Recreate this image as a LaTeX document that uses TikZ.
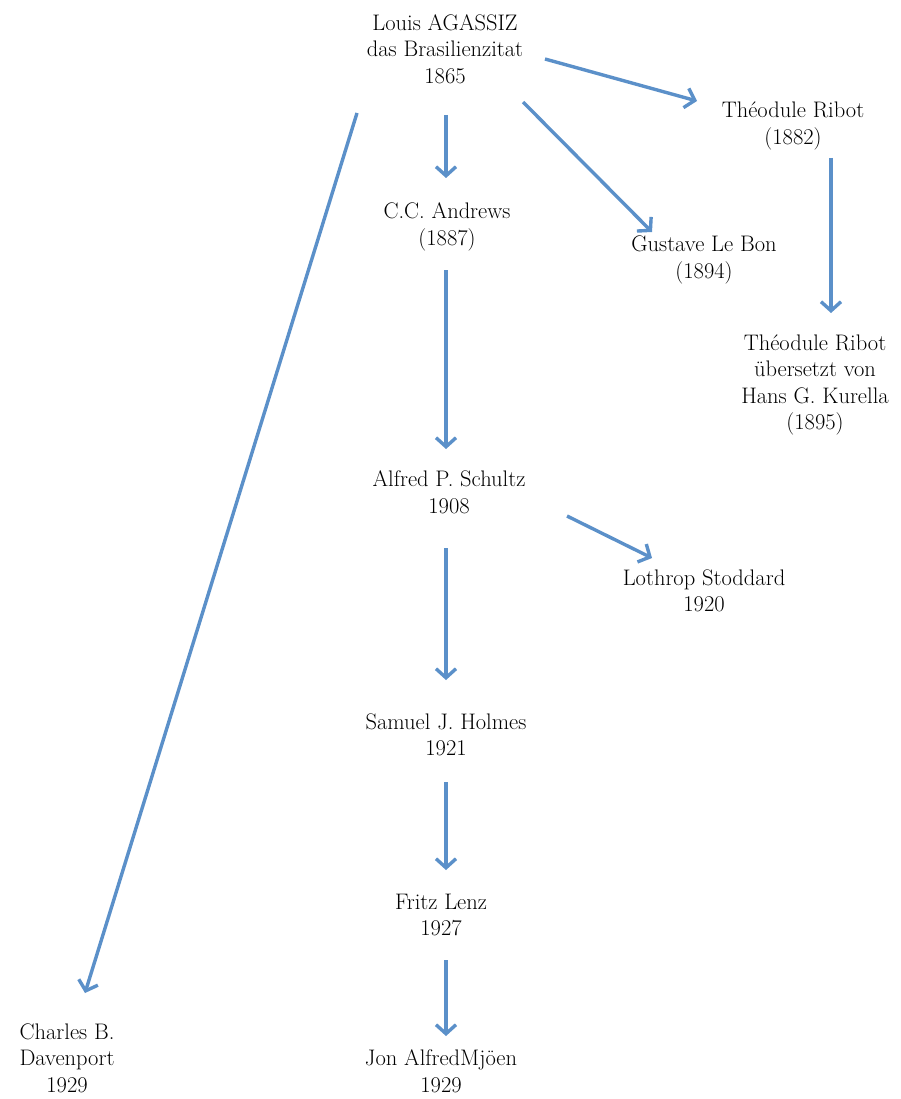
\documentclass[tikz,border=0pt]{standalone}
\usetikzlibrary{arrows.meta,calc}
\definecolor{arrblue}{RGB}{91,144,201}
\begin{document}
\begin{tikzpicture}[x=1pt,y=-1pt,
  lbl/.style={align=center,inner sep=0pt,font=\fontsize{22.5}{26.5}\selectfont},
  arr/.style={draw=arrblue,line width=3.4pt,-{Straight Barb[length=9pt,width=20pt]}}]
\useasboundingbox[fill=white] (0,0) rectangle (901,1099);
\node[lbl] (agassiz) at (445,49) {Louis AGASSIZ\\das Brasilienzitat\\1865};
\node[lbl] (ribot) at (793,126) {Théodule Ribot\\(1882)};
\node[lbl] (andrews) at (447,227) {C.C. Andrews\\(1887)};
\node[lbl] (lebon) at (704,260) {Gustave Le Bon\\(1894)};
\node[lbl] (ribotk) at (815,385) {Théodule Ribot\\übersetzt von\\Hans G. Kurella\\(1895)};
\node[lbl] (schultz) at (449,492) {Alfred P. Schultz\\1908};
\node[lbl] (stoddard) at (704,591) {Lothrop Stoddard\\1920};
\node[lbl] (holmes) at (446,735) {Samuel J. Holmes\\1921};
\node[lbl] (lenz) at (441,915) {Fritz Lenz\\1927};
\node[lbl] (mjoen) at (441,1071) {Jon AlfredMjöen\\1929};
\node[lbl] (davenport) at (67,1058) {Charles B.\\Davenport\\1929};
\draw[arr] ($(agassiz)+(100,10)$) -- ($(ribot)+(-96,-25)$);
\draw[arr] ($(agassiz)+(1,66)$) -- ($(andrews)+(-1,-49)$);
\draw[arr] ($(agassiz)+(78,53)$) -- ($(lebon)+(-52,-28)$);
\draw[arr] ($(agassiz)+(-88,64)$) -- ($(davenport)+(18,-65)$);
\draw[arr] ($(ribot)+(38,32)$) -- ($(ribotk)+(16,-72)$);
\draw[arr] ($(andrews)+(-1,43)$) -- ($(schultz)+(-3,-43)$);
\draw[arr] ($(schultz)+(118,24)$) -- ($(stoddard)+(-52,-33)$);
\draw[arr] ($(schultz)+(-3,56)$) -- ($(holmes)+(0,-55)$);
\draw[arr] ($(holmes)+(0,47)$) -- ($(lenz)+(5,-45)$);
\draw[arr] ($(lenz)+(5,45)$) -- ($(mjoen)+(5,-35)$);
\end{tikzpicture}
\end{document}
